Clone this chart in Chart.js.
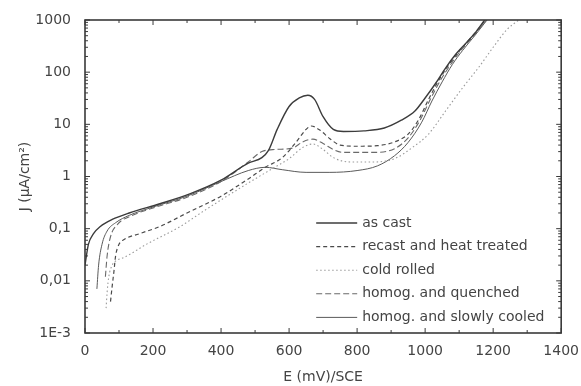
<!DOCTYPE html>
<html>
<head>
<meta charset="utf-8">
<script src="https://cdn.jsdelivr.net/npm/chart.js@4"></script>
<style>
  html, body { margin: 0; padding: 0; background: #fff; }
  #wrap { width: 581px; height: 386px; }
</style>
</head>
<body>
<div id="wrap"><canvas id="chart" width="581" height="386"></canvas></div>
<script>
// values (E in mV/SCE, J in µA/cm²)
const asCast = [[0,0.02],[10,0.05],[25,0.08],[45,0.11],[80,0.15],[130,0.2],[220,0.3],[310,0.47],[400,0.85],[480,1.8],[520,2.3],[540,3.2],[565,8],[600,22],[630,32],[655,36],[675,30],[700,14],[730,8],[760,7.3],[820,7.5],[880,8.5],[930,12],[970,18],[1000,32],[1030,60],[1060,120],[1090,220],[1120,360],[1150,600],[1175,1000]];
const recast = [[75,0.004],[80,0.008],[85,0.015],[90,0.03],[100,0.05],[115,0.062],[160,0.08],[220,0.11],[300,0.2],[400,0.42],[480,0.9],[530,1.5],[580,2.3],[620,4.5],[650,8],[665,9.3],[690,7.8],[720,5.3],[750,4.0],[800,3.8],[860,3.9],[910,4.6],[950,6.5],[980,12],[1010,30],[1040,70],[1070,140],[1100,250],[1140,500],[1178,1000]];
const coldRolled = [[62,0.003],[65,0.006],[70,0.012],[80,0.02],[95,0.025],[115,0.028],[180,0.05],[280,0.11],[350,0.22],[425,0.45],[500,0.9],[550,1.4],[600,2.2],[640,3.6],[670,4.2],[700,3.3],[730,2.3],[780,1.9],[850,1.9],[910,2.2],[960,3.5],[1010,6.5],[1060,18],[1110,50],[1160,130],[1200,300],[1240,650],[1275,1000]];
const quenched = [[60,0.012],[65,0.03],[75,0.07],[95,0.12],[140,0.18],[200,0.25],[300,0.4],[400,0.8],[480,1.9],[520,3.0],[560,3.3],[610,3.5],[640,4.6],[670,5.2],[700,4.3],[730,3.3],[760,2.9],[850,2.9],[910,3.4],[950,5.5],[985,12],[1015,30],[1045,70],[1075,140],[1105,260],[1145,520],[1180,1000]];
const slowlyCooled = [[35,0.007],[40,0.02],[50,0.05],[65,0.09],[90,0.13],[130,0.18],[200,0.26],[300,0.42],[400,0.8],[480,1.3],[530,1.5],[580,1.35],[650,1.2],[720,1.2],[800,1.3],[860,1.6],[910,2.5],[950,4.5],[990,11],[1020,28],[1050,65],[1080,140],[1110,260],[1150,540],[1182,1000]];

const seriesNames = ['as cast', 'recast and heat treated', 'cold rolled', 'homog. and quenched', 'homog. and slowly cooled'];
const yTickValues = [0.001, 0.01, 0.1, 1, 10, 100, 1000];
const yTickLabels = ['1E-3', '0,01', '0,1', '1', '10', '100', '1000'];
const xTickLabels = ['0', '200', '400', '600', '800', '1000', '1200', '1400'];

const toPts = arr => arr.map(p => ({ x: p[0], y: p[1] }));

const styles = [
  { color: '#3c3c3c', width: 1.4, dash: [] },
  { color: '#4a4a4a', width: 1.2, dash: [4, 3] },
  { color: '#9a9a9a', width: 1.1, dash: [1.5, 2.5] },
  { color: '#6a6a6a', width: 1.1, dash: [6, 3] },
  { color: '#5a5a5a', width: 1.0, dash: [] }
];
const allData = [asCast, recast, coldRolled, quenched, slowlyCooled];

const datasets = allData.map((d, i) => ({
  label: seriesNames[i],
  data: toPts(d),
  borderColor: styles[i].color,
  borderWidth: styles[i].width,
  borderDash: styles[i].dash,
  pointRadius: 0,
  fill: false,
  cubicInterpolationMode: 'monotone'
}));

const textColor = '#444';
const fontFamily = '"DejaVu Sans", Verdana, sans-serif';

// inward ticks on all four sides + frame
const frameTicks = {
  id: 'frameTicks',
  afterDatasetsDraw(chart) {
    const { ctx, chartArea: a, scales: { x, y } } = chart;
    ctx.save();
    ctx.strokeStyle = '#3a3a3a';
    ctx.lineWidth = 1;
    ctx.beginPath();
    x.ticks.forEach(t => {
      const px = x.getPixelForValue(t.value);
      const len = t.value % 200 === 0 ? 5 : 3;
      ctx.moveTo(px, a.bottom); ctx.lineTo(px, a.bottom - len);
      ctx.moveTo(px, a.top); ctx.lineTo(px, a.top + len);
    });
    y.ticks.forEach(t => {
      const py = y.getPixelForValue(t.value);
      const lg = Math.log10(t.value);
      const len = Math.abs(lg - Math.round(lg)) < 1e-6 ? 5 : 3;
      ctx.moveTo(a.left, py); ctx.lineTo(a.left + len, py);
      ctx.moveTo(a.right, py); ctx.lineTo(a.right - len, py);
    });
    ctx.stroke();
    ctx.lineWidth = 1.6;
    ctx.strokeRect(a.left, a.top, a.right - a.left, a.bottom - a.top);
    ctx.restore();
  }
};

// legend drawn inside the plot, bottom right
const innerLegend = {
  id: 'innerLegend',
  afterDraw(chart) {
    const { ctx, chartArea: a } = chart;
    ctx.save();
    ctx.font = '14px ' + fontFamily;
    ctx.textBaseline = 'middle';
    chart.data.datasets.forEach((ds, i) => {
      const yy = a.top + 203 + i * 23.6;
      ctx.strokeStyle = ds.borderColor;
      ctx.lineWidth = ds.borderWidth;
      ctx.setLineDash(ds.borderDash);
      ctx.beginPath();
      ctx.moveTo(a.right - 245, yy);
      ctx.lineTo(a.right - 204, yy);
      ctx.stroke();
      ctx.setLineDash([]);
      ctx.fillStyle = textColor;
      ctx.fillText(ds.label, a.right - 199, yy);
    });
    ctx.restore();
  }
};

const font = { family: fontFamily, size: 14 };

new Chart(document.getElementById('chart'), {
  type: 'line',
  data: { datasets },
  plugins: [frameTicks, innerLegend],
  options: {
    responsive: false,
    animation: false,
    layout: { padding: { top: 20, right: 19, left: 0, bottom: 0 } },
    plugins: { legend: { display: false }, tooltip: { enabled: false } },
    scales: {
      x: {
        type: 'linear',
        min: 0, max: 1400,
        grid: { display: false },
        border: { display: false },
        ticks: {
          stepSize: 100,
          autoSkip: false,
          maxRotation: 0,
          padding: 2,
          color: textColor,
          font,
          callback: v => (v % 200 === 0 ? xTickLabels[v / 200] : '')
        },
        title: { display: true, text: 'E (mV)/SCE', color: textColor, font, padding: { top: 0, bottom: 0 } },
        afterFit: s => { s.height = 53; }
      },
      y: {
        type: 'logarithmic',
        min: 0.001, max: 1000,
        grid: { display: false },
        border: { display: false },
        afterBuildTicks: s => {
          const t = [];
          yTickValues.forEach((v, i) => {
            if (i === yTickValues.length - 1) { t.push({ value: v }); return; }
            for (let m = 1; m <= 9; m++) t.push({ value: v * m });
          });
          s.ticks = t;
        },
        ticks: {
          autoSkip: false,
          padding: 6,
          color: textColor,
          font,
          callback: v => {
            const i = yTickValues.findIndex(tv => Math.abs(tv - v) / tv < 1e-6);
            return i >= 0 ? yTickLabels[i] : '';
          }
        },
        title: { display: true, text: 'J (μA/cm²)', color: textColor, font, padding: { top: 17, bottom: 0 } },
        afterFit: s => { s.width = 85; }
      }
    }
  }
});
</script>
</body>
</html>
